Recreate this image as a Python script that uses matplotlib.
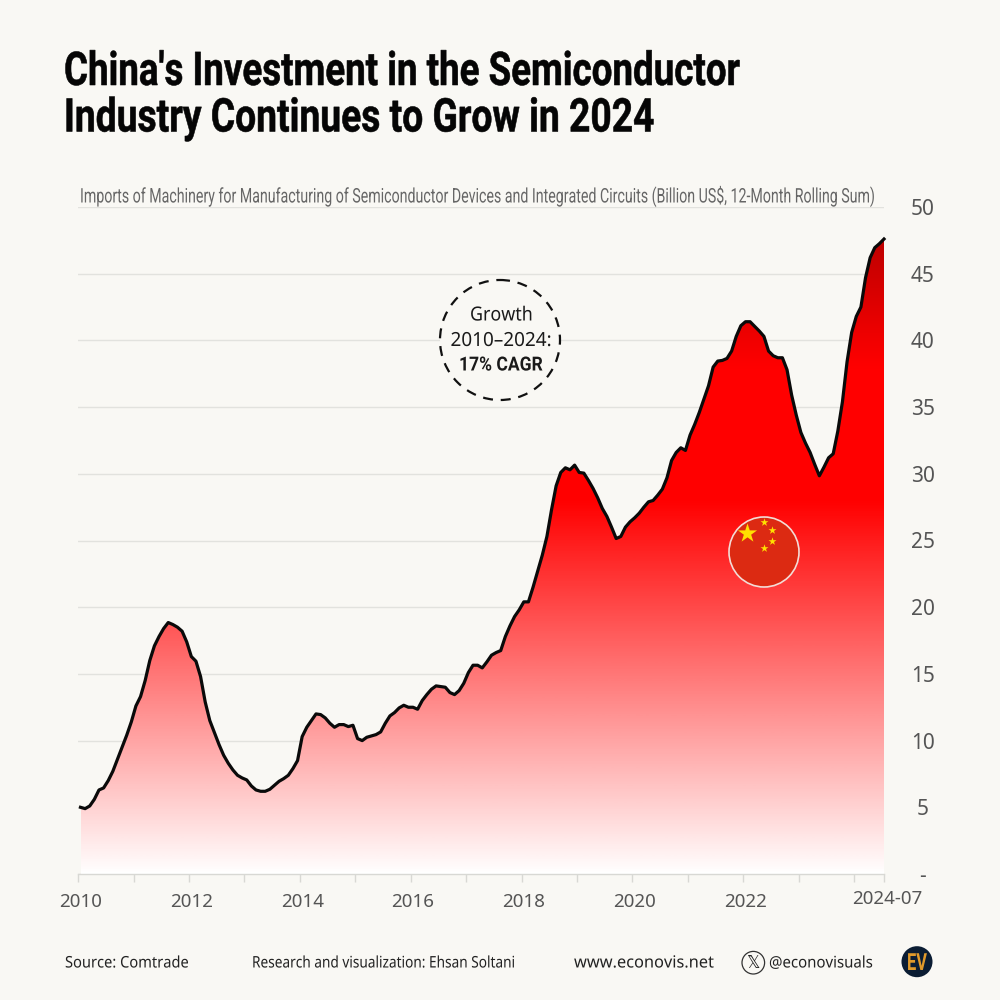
import numpy as np
import matplotlib
matplotlib.use('Agg')
import matplotlib.pyplot as plt
from matplotlib.colors import LinearSegmentedColormap
from matplotlib.patches import Circle
from matplotlib.patheffects import AbstractPathEffect
from matplotlib.transforms import Affine2D

# Monthly values from 2010-01 to 2024-07 (billion US$, rolling sum)
imports_bn = [
    5.0, 4.9, 5.1, 5.6, 6.3, 6.45, 7.0, 7.7, 8.6, 9.5, 10.4, 11.4,
    12.6, 13.3, 14.5, 16.0, 17.1, 17.8, 18.4, 18.85, 18.7, 18.5, 18.2, 17.4,
    16.3, 15.95, 14.8, 12.9, 11.5, 10.6, 9.7, 8.9, 8.3, 7.8, 7.4, 7.2,
    7.05, 6.6, 6.3, 6.2, 6.2, 6.35, 6.65, 6.95, 7.15, 7.4, 7.9, 8.5,
    10.3, 11.0, 11.5, 12.0, 11.95, 11.7, 11.3, 11.0, 11.2, 11.2, 11.05, 11.15,
    10.15, 10.0, 10.25, 10.35, 10.45, 10.65, 11.3, 11.85, 12.1, 12.45, 12.65, 12.5,
    12.5, 12.35, 13.0, 13.45, 13.85, 14.1, 14.05, 14.0, 13.6, 13.45, 13.75, 14.3,
    15.1, 15.65, 15.65, 15.45, 15.9, 16.4, 16.6, 16.75, 17.8, 18.6, 19.3, 19.8,
    20.4, 20.4, 21.5, 22.7, 23.9, 25.3, 27.3, 29.1, 30.1, 30.45, 30.3, 30.65,
    30.1, 30.05, 29.5, 28.9, 28.2, 27.4, 26.8, 26.0, 25.15, 25.3, 26.0, 26.4,
    26.7, 27.05, 27.5, 27.9, 28.0, 28.4, 28.85, 29.7, 31.0, 31.6, 31.95, 31.75,
    32.9, 33.7, 34.6, 35.6, 36.6, 38.0, 38.45, 38.5, 38.65, 39.2, 40.3, 41.1,
    41.4, 41.4, 41.05, 40.7, 40.3, 39.2, 38.85, 38.7, 38.7, 37.8, 35.9, 34.4,
    33.1, 32.3, 31.6, 30.7, 29.85, 30.5, 31.2, 31.5, 33.2, 35.4, 38.4, 40.6,
    41.8, 42.5, 44.7, 46.2, 46.95, 47.25, 47.6,
]
year_labels = ['2010', '2012', '2014', '2016', '2018', '2020', '2022']
year_label_months = [0, 24, 48, 72, 96, 120, 144]
y_ticks = [0, 5, 10, 15, 20, 25, 30, 35, 40, 45, 50]
y_labels = ['-', '5', '10', '15', '20', '25', '30', '35', '40', '45', '50']

BG = '#f9f8f4'
GRID = '#e2e2de'
GREY = '#555555'
TITLE_FONT = ['Roboto', 'DejaVu Sans']
UI = ['Noto Sans', 'DejaVu Sans']


# No condensed font is installed, so reshape the glyphs when drawing
class Squeeze(AbstractPathEffect):
    def __init__(self, sx, sy=1.0, stroke=0.0):
        super().__init__()
        self.sx = sx
        self.sy = sy
        self.stroke = stroke

    def draw_path(self, renderer, gc, tpath, affine, rgbFace=None):
        gc0 = renderer.new_gc()
        gc0.copy_properties(gc)
        if self.stroke:
            gc0.set_linewidth(self.stroke)
            gc0.set_foreground(rgbFace)
        renderer.draw_path(gc0, tpath, Affine2D().scale(self.sx, self.sy) + affine, rgbFace)
        gc0.restore()


def fit_text(axis, x, y, s, width, sy=1.0, stroke=0.0, **kw):
    t = axis.text(x, y, s, ha='left', va='baseline', **kw)
    full = t.get_window_extent(fig.canvas.get_renderer()).width
    t.set_path_effects([Squeeze(width / full, sy, stroke)])
    return t


months = np.arange(len(imports_bn))
values = np.array(imports_bn)

fig = plt.figure(figsize=(10, 10), dpi=100, facecolor=BG)
ax = fig.add_axes([0.0782, 0.126, 0.8058, 0.667], facecolor=BG)
ax.set_xlim(-0.5, 174)
ax.set_ylim(0, 50)

# Gridlines and axes
for s in ['top', 'right', 'left']:
    ax.spines[s].set_visible(False)
ax.spines['bottom'].set_color('#d8d8d4')
ax.spines['bottom'].set_linewidth(1)
ax.grid(axis='y', color=GRID, linewidth=1)
ax.set_axisbelow(True)
ax.yaxis.tick_right()
ax.set_yticks(y_ticks, y_labels, fontsize=15, color=GREY, family=UI)
ax.tick_params(axis='y', length=0, pad=28)
for lab in ax.get_yticklabels():
    lab.set_horizontalalignment('center')
ax.set_xticks(year_label_months, year_labels, fontsize=13.5, color=GREY, family=UI)
ax.tick_params(axis='x', which='major', length=0, pad=14)
ax.set_xticks(list(np.arange(0, 175, 12) - 0.5) + [174], minor=True)
ax.tick_params(axis='x', which='minor', length=6, color='#d8d8d4', width=1)

# Red gradient, clipped to the area under the curve
cmap = LinearSegmentedColormap.from_list('red_fade', [
    (0.0, '#ffffff'),
    (28 / 48, '#ff0000'),
    (38 / 48, '#ff0000'),
    (1.0, '#bb0000'),
])
grad = np.linspace(0, 1, 512).reshape(-1, 1)
im = ax.imshow(grad, origin='lower', aspect='auto', cmap=cmap, extent=[0, 174, 0, 48], zorder=2)
area = ax.fill_between(months, values, 0, facecolor='none', edgecolor='none', zorder=2)
im.set_clip_path(area.get_paths()[0], transform=ax.transData)
ax.set_xlim(-0.5, 174)
ax.set_ylim(0, 50)
ax.plot(months, values, color='#0a0a0a', linewidth=2.3, zorder=3, clip_on=False,
        solid_joinstyle='round')

# Overlay in pixel coordinates for the decorations
ov = fig.add_axes([0, 0, 1, 1], facecolor='none')
ov.set_xlim(0, 1000)
ov.set_ylim(1000, 0)
ov.axis('off')

fit_text(ov, 64, 85, "China's Investment in the Semiconductor", 676, stroke=0.4, fontsize=33.5,
         fontweight='bold', family=TITLE_FONT, color='#050505')
fit_text(ov, 64, 131.5, 'Industry Continues to Grow in 2024', 590, stroke=0.4, fontsize=33.5,
         fontweight='bold', family=TITLE_FONT, color='#050505')
fit_text(ov, 80, 202.5, 'Imports of Machinery for Manufacturing of Semiconductor Devices and '
         'Integrated Circuits (Billion US$, 12-Month Rolling Sum)', 795, sy=1.45, fontsize=10,
         family=TITLE_FONT, color='#666666')

# Last x label sits past the final month
ov.text(887.5, 898.5, '2024-07', ha='center', va='center', fontsize=13.5, family=UI, color=GREY)

# Growth callout
ov.add_patch(Circle((500, 340), 60, facecolor=BG, edgecolor='#111111', linewidth=1.6,
                    linestyle=(0, (4.5, 3.5))))
fit_text(ov, 470, 320.5, 'Growth', 63, fontsize=14, family=UI, color='#1a1a1a')
fit_text(ov, 450.5, 346, '2010–2024:', 101, fontsize=14, family=UI, color='#1a1a1a')
fit_text(ov, 459, 370.5, '17% CAGR', 84, fontsize=14, fontweight='bold', family=TITLE_FONT,
         color='#1a1a1a')

# Flag
ov.add_patch(Circle((764, 552), 35, facecolor='#dc2a12', edgecolor='#f3dcd6', linewidth=1.2, zorder=4))
ov.scatter([746.5], [532.5], marker='*', s=210, color='#ffe100', linewidths=0, zorder=5)
ov.scatter([764.3, 771.7, 771.7, 764.3], [522.3, 529.7, 540.7, 547.7], marker='*', s=36,
           color='#ffe100', linewidths=0, zorder=5)

# Footer
fit_text(ov, 65, 967.5, 'Source: Comtrade', 124, fontsize=11.5, family=UI, color='#222222')
fit_text(ov, 252, 967.5, 'Research and visualization: Ehsan Soltani', 263, fontsize=11.5,
         family=UI, color='#222222')
fit_text(ov, 574, 967.5, 'www.econovis.net', 140, fontsize=12, family=UI, color='#222222')
ov.add_patch(Circle((753.3, 962.7), 11.3, facecolor='none', edgecolor='#333333', linewidth=0.9))
ov.text(753.3, 962.7, '\U0001D54F', ha='center', va='center', fontsize=12, family='DejaVu Sans',
        color='#222222')
fit_text(ov, 769, 967.5, '@econovisuals', 104, fontsize=11.5, family=UI, color='#222222')
ov.add_patch(Circle((917, 961.7), 15.5, facecolor='#0b1d33', edgecolor='none'))
fit_text(ov, 907, 970, 'EV', 20, fontsize=17, fontweight='bold', family=TITLE_FONT, color='#e09a2b')

plt.savefig('out.png', dpi=100, facecolor=BG)
